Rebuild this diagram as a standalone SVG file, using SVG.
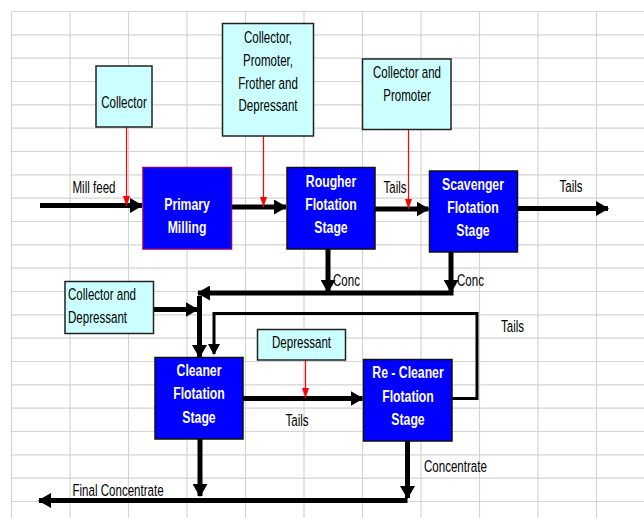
<svg xmlns="http://www.w3.org/2000/svg" width="644" height="518" viewBox="0 0 644 518">
<style>
.grid line{stroke:#d4d4d4;stroke-width:1.2}
.add{fill:#ccffff;stroke:#222;stroke-width:1.5}
.stage{fill:#0000ff;stroke:#111;stroke-width:1.5}
.lbl{font-family:"Liberation Sans",Arial,sans-serif;font-size:16.5px;fill:#000}
.st{font-family:"Liberation Sans",Arial,sans-serif;font-size:17px;font-weight:bold;fill:#fff;text-anchor:middle}
.mid{text-anchor:middle}
.flow{stroke:#000;stroke-width:5;fill:none}
.thin{stroke:#000;stroke-width:3;fill:none}
.red{stroke:#ff0000;stroke-width:1.2;fill:none}
</style>
<defs>
<marker id="ab" markerUnits="userSpaceOnUse" markerWidth="13" markerHeight="15" refX="12" refY="7.5" orient="auto"><path d="M0,0 L13,7.5 L0,15 z" fill="#000"/></marker>
<marker id="as" markerUnits="userSpaceOnUse" markerWidth="11" markerHeight="12" refX="10" refY="6" orient="auto"><path d="M0,0 L11,6 L0,12 z" fill="#000"/></marker>
<marker id="ar" markerUnits="userSpaceOnUse" markerWidth="10" markerHeight="7" refX="10" refY="3.5" orient="auto"><path d="M0,0 L10,3.5 L0,7 z" fill="#ff0000"/></marker>
</defs>
<rect width="644" height="518" fill="#fff"/>
<g class="grid">
<line x1="11.5" y1="11.5" x2="11.5" y2="518"/><line x1="70" y1="11.5" x2="70" y2="518"/><line x1="128.5" y1="11.5" x2="128.5" y2="518"/><line x1="187" y1="11.5" x2="187" y2="518"/><line x1="245.5" y1="11.5" x2="245.5" y2="518"/><line x1="304" y1="11.5" x2="304" y2="518"/><line x1="362.5" y1="11.5" x2="362.5" y2="518"/><line x1="421" y1="11.5" x2="421" y2="518"/><line x1="479.5" y1="11.5" x2="479.5" y2="518"/><line x1="538" y1="11.5" x2="538" y2="518"/><line x1="596.5" y1="11.5" x2="596.5" y2="518"/>
<line x1="11.5" y1="11.5" x2="644" y2="11.5"/><line x1="11.5" y1="34.8" x2="644" y2="34.8"/><line x1="11.5" y1="58.2" x2="644" y2="58.2"/><line x1="11.5" y1="81.5" x2="644" y2="81.5"/><line x1="11.5" y1="104.8" x2="644" y2="104.8"/><line x1="11.5" y1="128.2" x2="644" y2="128.2"/><line x1="11.5" y1="151.5" x2="644" y2="151.5"/><line x1="11.5" y1="174.8" x2="644" y2="174.8"/><line x1="11.5" y1="198.2" x2="644" y2="198.2"/><line x1="11.5" y1="221.5" x2="644" y2="221.5"/><line x1="11.5" y1="244.8" x2="644" y2="244.8"/><line x1="11.5" y1="268.2" x2="644" y2="268.2"/><line x1="11.5" y1="291.5" x2="644" y2="291.5"/><line x1="11.5" y1="314.8" x2="644" y2="314.8"/><line x1="11.5" y1="338.2" x2="644" y2="338.2"/><line x1="11.5" y1="361.5" x2="644" y2="361.5"/><line x1="11.5" y1="384.8" x2="644" y2="384.8"/><line x1="11.5" y1="408.2" x2="644" y2="408.2"/><line x1="11.5" y1="431.5" x2="644" y2="431.5"/><line x1="11.5" y1="454.8" x2="644" y2="454.8"/><line x1="11.5" y1="478.2" x2="644" y2="478.2"/><line x1="11.5" y1="501.5" x2="644" y2="501.5"/>
</g>
<g id="connectors">
<line class="flow" x1="40" y1="205.5" x2="142" y2="205.5" marker-end="url(#ab)"/>
<line class="flow" x1="231" y1="207" x2="286" y2="207" marker-end="url(#ab)"/>
<line class="flow" x1="375" y1="209" x2="428.5" y2="209" marker-end="url(#ab)"/>
<line class="flow" x1="518" y1="208.5" x2="608" y2="208.5" marker-end="url(#ab)"/>
<line class="flow" x1="328" y1="249" x2="328" y2="292" marker-end="url(#ab)"/>
<line class="flow" x1="451" y1="252" x2="451" y2="292" marker-end="url(#ab)"/>
<polyline class="flow" points="451,290.5 451,293 198,293" marker-end="url(#ab)"/>
<line class="flow" x1="153" y1="309.5" x2="197.5" y2="309.5" marker-end="url(#ab)"/>
<line class="flow" x1="199.5" y1="296" x2="199.5" y2="357" marker-end="url(#ab)"/>
<polyline class="thin" points="452,398.5 477,398.5 477,313.5 214,313.5 214,354" marker-end="url(#as)"/>
<line class="flow" x1="243" y1="398.5" x2="362.5" y2="398.5" marker-end="url(#ab)"/>
<line class="flow" x1="200" y1="439" x2="200" y2="496" marker-end="url(#ab)"/>
<line class="flow" x1="407.5" y1="441" x2="407.5" y2="498" marker-end="url(#ab)"/>
<line class="flow" x1="407.5" y1="500.5" x2="39" y2="500.5" marker-end="url(#ab)"/>
<line class="red" x1="126.5" y1="127" x2="126.5" y2="206" marker-end="url(#ar)"/>
<line class="red" x1="263.5" y1="136" x2="263.5" y2="207" marker-end="url(#ar)"/>
<line class="red" x1="408.5" y1="130" x2="408.5" y2="209" marker-end="url(#ar)"/>
<line class="red" x1="305.5" y1="360" x2="305.5" y2="398" marker-end="url(#ar)"/>
</g>
<g id="labels" class="lbl">
<text transform="translate(94,192.5) scale(0.70,1)" class="mid">Mill feed</text>
<text transform="translate(395,192.5) scale(0.70,1)" class="mid">Tails</text>
<text transform="translate(571,192) scale(0.70,1)" class="mid">Tails</text>
<text transform="translate(333,286) scale(0.70,1)">Conc</text>
<text transform="translate(457,286) scale(0.70,1)">Conc</text>
<text transform="translate(512.5,332) scale(0.70,1)" class="mid">Tails</text>
<text transform="translate(297,425.5) scale(0.70,1)" class="mid">Tails</text>
<text transform="translate(424,472) scale(0.70,1)">Concentrate</text>
<text transform="translate(72.5,496) scale(0.70,1)">Final Concentrate</text>
</g>
<g id="collector">
<rect class="add" x="96" y="66" width="56" height="61"/>
<text class="lbl mid" transform="translate(124,107.5) scale(0.70,1)">Collector</text>
</g>
<g id="cpfd">
<rect class="add" x="222.5" y="23.5" width="91" height="112.5"/>
<text class="lbl mid" transform="translate(268,42.8) scale(0.70,1)">Collector,</text>
<text class="lbl mid" transform="translate(268,65.8) scale(0.70,1)">Promoter,</text>
<text class="lbl mid" transform="translate(268,88.8) scale(0.70,1)">Frother and</text>
<text class="lbl mid" transform="translate(268,111.3) scale(0.70,1)">Depressant</text>
</g>
<g id="cp">
<rect class="add" x="362.5" y="59" width="88.5" height="70.5"/>
<text class="lbl mid" transform="translate(407,78.3) scale(0.70,1)">Collector and</text>
<text class="lbl mid" transform="translate(407,100.8) scale(0.70,1)">Promoter</text>
</g>
<g id="cd">
<rect class="add" x="65" y="281.5" width="88.5" height="52"/>
<text class="lbl" transform="translate(68,299.8) scale(0.70,1)">Collector and</text>
<text class="lbl" transform="translate(68,322.5) scale(0.70,1)">Depressant</text>
</g>
<g id="dep">
<rect class="add" x="257.5" y="329.5" width="88" height="30.5"/>
<text class="lbl mid" transform="translate(301.5,347.5) scale(0.70,1)">Depressant</text>
</g>
<g id="primary">
<rect class="stage" x="143" y="167.5" width="88.5" height="81.5" style="stroke:#800080"/>
<text class="st" transform="translate(187,210) scale(0.72,1)">Primary</text>
<text class="st" transform="translate(187,232.5) scale(0.72,1)">Milling</text>
</g>
<g id="rougher">
<rect class="stage" x="287" y="167.5" width="88" height="81.5"/>
<text class="st" transform="translate(331,186.5) scale(0.72,1)">Rougher</text>
<text class="st" transform="translate(331,209.5) scale(0.72,1)">Flotation</text>
<text class="st" transform="translate(331,232.5) scale(0.72,1)">Stage</text>
</g>
<g id="scavenger">
<rect class="stage" x="429.5" y="171" width="88" height="81"/>
<text class="st" transform="translate(473,189.5) scale(0.72,1)">Scavenger</text>
<text class="st" transform="translate(473,212.5) scale(0.72,1)">Flotation</text>
<text class="st" transform="translate(473,236) scale(0.72,1)">Stage</text>
</g>
<g id="cleaner">
<rect class="stage" x="155" y="357.5" width="88" height="81.5"/>
<text class="st" transform="translate(199,376) scale(0.72,1)">Cleaner</text>
<text class="st" transform="translate(199,399) scale(0.72,1)">Flotation</text>
<text class="st" transform="translate(199,422.5) scale(0.72,1)">Stage</text>
</g>
<g id="recleaner">
<rect class="stage" x="363.5" y="359.5" width="88.5" height="81.5"/>
<text class="st" transform="translate(408,377.5) scale(0.72,1)">Re - Cleaner</text>
<text class="st" transform="translate(408,401.5) scale(0.72,1)">Flotation</text>
<text class="st" transform="translate(408,424.5) scale(0.72,1)">Stage</text>
</g>
</svg>
